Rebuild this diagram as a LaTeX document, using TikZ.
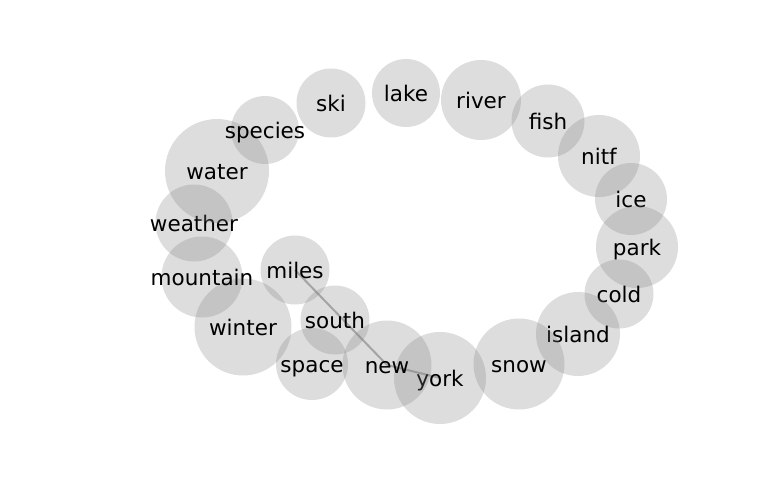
\documentclass[tikz,border=0pt]{standalone}
\usepackage{fontspec}
\setsansfont{DejaVu Sans}
\usepackage{tikz}
\usetikzlibrary{positioning}
\pgfdeclarelayer{background}
\pgfsetlayers{background,main}

\begin{document}
\begin{tikzpicture}[x=1pt, y=-1pt,
    bubble/.style={circle, draw=none, fill=black!50, fill opacity=0.27, inner sep=0pt, minimum size=#1},
    every label/.style={text=black, text opacity=1, inner sep=0pt, text height=21pt, text depth=4.6pt, font=\sffamily\fontsize{21.5}{24}\selectfont},
    link/.style={draw=black!30, line width=2pt}]
    \useasboundingbox (0,0) rectangle (768,500);
    \node[bubble=68, label=center:lake] (lake) at (406,93) {};
    \node[bubble=80, label=center:river] (river) at (481,100) {};
    \node[bubble=73, label=center:fish] (fish) at (548,121) {};
    \node[bubble=82, label=center:nitf] (nitf) at (599,156) {};
    \node[bubble=72, label=center:ice] (ice) at (631,199) {};
    \node[bubble=82, label=center:park] (park) at (637,247) {};
    \node[bubble=69, label=center:cold] (cold) at (619,294) {};
    \node[bubble=84, label=center:island] (island) at (578,334) {};
    \node[bubble=91, label=center:snow] (snow) at (519,364) {};
    \node[bubble=92, label=center:york] (york) at (440,378) {};
    \node[bubble=89, label=center:new] (new) at (387,365) {};
    \node[bubble=72, label=center:space] (space) at (312,364) {};
    \node[bubble=69, label=center:south] (south) at (335,320) {};
    \node[bubble=69, label=center:miles] (miles) at (295,270) {};
    \node[bubble=97, label=center:winter] (winter) at (243,327) {};
    \node[bubble=81, label=center:mountain] (mountain) at (202,277) {};
    \node[bubble=77, label=center:weather] (weather) at (194,223) {};
    \node[bubble=104, label=center:water] (water) at (217,171) {};
    \node[bubble=68, label=center:species] (species) at (265,130) {};
    \node[bubble=69, label=center:ski] (ski) at (331,103) {};
    % links sit under the bubbles
    \begin{pgfonlayer}{background}
    \path
      (miles.center) edge[link] (new.center)
      (new.center) edge[link] (york.center);
    \end{pgfonlayer}
\end{tikzpicture}
\end{document}
